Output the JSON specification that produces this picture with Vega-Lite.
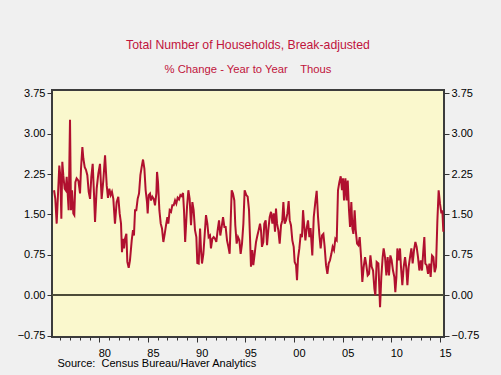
{
"$schema":"https://vega.github.io/schema/vega-lite/v6.json",
"width":392,"height":247,
"autosize":{"type":"none"},
"padding":{"left":52,"top":90,"right":57,"bottom":38},
"background":"#f0f0f0",
"title":{"text":"Total Number of Households, Break-adjusted","subtitle":"% Change - Year to Year\u00a0\u00a0\u00a0\u00a0Thous","color":"#c0143c","subtitleColor":"#c0143c","font":"Liberation Sans","subtitleFont":"Liberation Sans","fontSize":12.25,"subtitleFontSize":11.25,"fontWeight":"normal","anchor":"middle","offset":12,"subtitlePadding":13},
"config":{"view":{"fill":"#faf8cd","stroke":"#3c3c3c","strokeWidth":2}},
"data":{"values":[
{"year":1975.35,"pct":1.95},{"year":1975.48,"pct":1.79},{"year":1975.62,"pct":1.33},{"year":1975.76,"pct":1.89},{"year":1975.89,"pct":2.41},{"year":1976.0,"pct":2.2},{"year":1976.1,"pct":1.42},{"year":1976.2,"pct":2.48},{"year":1976.3,"pct":2.23},{"year":1976.44,"pct":1.98},{"year":1976.55,"pct":1.95},{"year":1976.65,"pct":2.2},{"year":1976.75,"pct":1.89},{"year":1976.85,"pct":1.58},{"year":1976.99,"pct":3.26},{"year":1977.09,"pct":1.58},{"year":1977.2,"pct":1.95},{"year":1977.33,"pct":1.52},{"year":1977.43,"pct":1.49},{"year":1977.54,"pct":2.1},{"year":1977.67,"pct":2.17},{"year":1977.85,"pct":2.13},{"year":1978.02,"pct":1.89},{"year":1978.12,"pct":2.35},{"year":1978.26,"pct":2.75},{"year":1978.36,"pct":2.54},{"year":1978.5,"pct":2.38},{"year":1978.63,"pct":2.33},{"year":1978.77,"pct":2.23},{"year":1978.91,"pct":1.92},{"year":1979.05,"pct":1.79},{"year":1979.18,"pct":2.2},{"year":1979.32,"pct":2.44},{"year":1979.46,"pct":1.86},{"year":1979.56,"pct":1.36},{"year":1979.73,"pct":1.98},{"year":1979.9,"pct":2.26},{"year":1980.07,"pct":2.44},{"year":1980.24,"pct":1.79},{"year":1980.41,"pct":2.13},{"year":1980.59,"pct":2.6},{"year":1980.76,"pct":2.04},{"year":1980.89,"pct":1.81},{"year":1981.03,"pct":1.98},{"year":1981.17,"pct":1.86},{"year":1981.3,"pct":1.92},{"year":1981.44,"pct":1.79},{"year":1981.61,"pct":1.33},{"year":1981.78,"pct":1.73},{"year":1981.95,"pct":1.83},{"year":1982.09,"pct":1.52},{"year":1982.23,"pct":1.33},{"year":1982.33,"pct":0.8},{"year":1982.44,"pct":1.05},{"year":1982.54,"pct":0.87},{"year":1982.64,"pct":1.05},{"year":1982.78,"pct":1.14},{"year":1982.88,"pct":0.62},{"year":1983.02,"pct":0.51},{"year":1983.15,"pct":0.65},{"year":1983.33,"pct":1.02},{"year":1983.46,"pct":1.21},{"year":1983.56,"pct":1.11},{"year":1983.67,"pct":1.58},{"year":1983.8,"pct":1.58},{"year":1983.94,"pct":1.79},{"year":1984.08,"pct":1.89},{"year":1984.22,"pct":2.23},{"year":1984.35,"pct":2.38},{"year":1984.49,"pct":2.52},{"year":1984.63,"pct":2.35},{"year":1984.76,"pct":1.95},{"year":1984.9,"pct":1.73},{"year":1984.97,"pct":1.52},{"year":1985.07,"pct":1.86},{"year":1985.21,"pct":1.89},{"year":1985.31,"pct":1.76},{"year":1985.45,"pct":1.83},{"year":1985.59,"pct":1.79},{"year":1985.72,"pct":1.67},{"year":1985.86,"pct":1.89},{"year":1985.93,"pct":2.29},{"year":1986.03,"pct":2.1},{"year":1986.17,"pct":1.58},{"year":1986.31,"pct":1.33},{"year":1986.44,"pct":1.24},{"year":1986.58,"pct":0.99},{"year":1986.72,"pct":1.14},{"year":1986.85,"pct":1.3},{"year":1986.99,"pct":1.45},{"year":1987.09,"pct":1.33},{"year":1987.23,"pct":1.58},{"year":1987.37,"pct":1.55},{"year":1987.5,"pct":1.67},{"year":1987.64,"pct":1.67},{"year":1987.78,"pct":1.76},{"year":1987.91,"pct":1.7},{"year":1988.05,"pct":1.81},{"year":1988.19,"pct":1.78},{"year":1988.33,"pct":1.86},{"year":1988.46,"pct":1.84},{"year":1988.6,"pct":1.9},{"year":1988.7,"pct":1.58},{"year":1988.82,"pct":0.99},{"year":1989.01,"pct":1.64},{"year":1989.15,"pct":1.95},{"year":1989.28,"pct":1.79},{"year":1989.42,"pct":1.3},{"year":1989.56,"pct":1.73},{"year":1989.69,"pct":1.58},{"year":1989.83,"pct":1.21},{"year":1989.97,"pct":1.08},{"year":1990.07,"pct":0.6},{"year":1990.21,"pct":0.59},{"year":1990.35,"pct":1.24},{"year":1990.45,"pct":0.84},{"year":1990.55,"pct":0.59},{"year":1990.69,"pct":0.77},{"year":1990.82,"pct":1.11},{"year":1990.96,"pct":1.49},{"year":1991.1,"pct":1.33},{"year":1991.23,"pct":1.08},{"year":1991.37,"pct":1.11},{"year":1991.47,"pct":0.87},{"year":1991.61,"pct":1.05},{"year":1991.75,"pct":1.08},{"year":1991.89,"pct":1.05},{"year":1992.02,"pct":0.99},{"year":1992.16,"pct":1.21},{"year":1992.3,"pct":1.39},{"year":1992.43,"pct":1.11},{"year":1992.57,"pct":1.27},{"year":1992.71,"pct":1.45},{"year":1992.85,"pct":1.27},{"year":1992.98,"pct":1.27},{"year":1993.12,"pct":1.02},{"year":1993.26,"pct":0.9},{"year":1993.39,"pct":0.77},{"year":1993.5,"pct":1.39},{"year":1993.6,"pct":1.95},{"year":1993.73,"pct":1.89},{"year":1993.87,"pct":1.76},{"year":1993.97,"pct":1.3},{"year":1994.11,"pct":0.96},{"year":1994.25,"pct":1.08},{"year":1994.39,"pct":1.02},{"year":1994.52,"pct":0.77},{"year":1994.66,"pct":0.96},{"year":1994.8,"pct":1.33},{"year":1994.93,"pct":1.95},{"year":1995.1,"pct":1.86},{"year":1995.24,"pct":1.83},{"year":1995.38,"pct":1.58},{"year":1995.48,"pct":1.08},{"year":1995.58,"pct":0.53},{"year":1995.72,"pct":0.84},{"year":1995.82,"pct":0.56},{"year":1995.96,"pct":0.77},{"year":1996.1,"pct":0.99},{"year":1996.24,"pct":1.11},{"year":1996.37,"pct":1.21},{"year":1996.51,"pct":1.33},{"year":1996.61,"pct":1.21},{"year":1996.71,"pct":0.9},{"year":1996.85,"pct":0.99},{"year":1996.95,"pct":1.33},{"year":1997.09,"pct":1.39},{"year":1997.23,"pct":0.93},{"year":1997.36,"pct":1.21},{"year":1997.5,"pct":1.45},{"year":1997.64,"pct":1.55},{"year":1997.78,"pct":1.33},{"year":1997.91,"pct":1.52},{"year":1998.05,"pct":1.18},{"year":1998.15,"pct":1.61},{"year":1998.26,"pct":1.33},{"year":1998.39,"pct":1.21},{"year":1998.53,"pct":0.96},{"year":1998.67,"pct":1.3},{"year":1998.8,"pct":1.39},{"year":1998.91,"pct":1.73},{"year":1999.04,"pct":1.33},{"year":1999.18,"pct":1.39},{"year":1999.32,"pct":1.52},{"year":1999.45,"pct":1.75},{"year":1999.56,"pct":1.39},{"year":1999.69,"pct":1.3},{"year":1999.83,"pct":1.02},{"year":1999.97,"pct":0.9},{"year":2000.07,"pct":0.62},{"year":2000.21,"pct":0.56},{"year":2000.31,"pct":0.28},{"year":2000.41,"pct":0.68},{"year":2000.55,"pct":0.87},{"year":2000.69,"pct":1.14},{"year":2000.82,"pct":1.08},{"year":2000.93,"pct":1.58},{"year":2001.03,"pct":1.33},{"year":2001.17,"pct":1.02},{"year":2001.3,"pct":1.24},{"year":2001.44,"pct":1.39},{"year":2001.58,"pct":1.08},{"year":2001.7,"pct":1.25},{"year":2001.88,"pct":0.74},{"year":2002.03,"pct":1.45},{"year":2002.19,"pct":1.73},{"year":2002.33,"pct":1.94},{"year":2002.47,"pct":1.45},{"year":2002.6,"pct":1.14},{"year":2002.74,"pct":0.87},{"year":2002.88,"pct":1.11},{"year":2003.02,"pct":1.14},{"year":2003.15,"pct":0.9},{"year":2003.29,"pct":0.56},{"year":2003.43,"pct":0.4},{"year":2003.56,"pct":0.59},{"year":2003.7,"pct":0.65},{"year":2003.84,"pct":0.77},{"year":2003.97,"pct":0.9},{"year":2004.11,"pct":0.84},{"year":2004.25,"pct":1.05},{"year":2004.39,"pct":1.02},{"year":2004.52,"pct":1.95},{"year":2004.66,"pct":2.1},{"year":2004.8,"pct":2.21},{"year":2004.93,"pct":1.95},{"year":2005.04,"pct":2.17},{"year":2005.14,"pct":1.76},{"year":2005.28,"pct":2.17},{"year":2005.41,"pct":1.76},{"year":2005.52,"pct":2.13},{"year":2005.65,"pct":1.58},{"year":2005.76,"pct":1.27},{"year":2005.89,"pct":1.73},{"year":2006.0,"pct":1.24},{"year":2006.1,"pct":1.14},{"year":2006.23,"pct":1.58},{"year":2006.34,"pct":1.21},{"year":2006.48,"pct":0.96},{"year":2006.61,"pct":0.93},{"year":2006.75,"pct":1.08},{"year":2006.89,"pct":0.71},{"year":2007.02,"pct":0.25},{"year":2007.16,"pct":0.53},{"year":2007.3,"pct":0.71},{"year":2007.43,"pct":0.56},{"year":2007.57,"pct":0.37},{"year":2007.71,"pct":0.4},{"year":2007.85,"pct":0.74},{"year":2007.98,"pct":0.53},{"year":2008.12,"pct":0.46},{"year":2008.26,"pct":0.12},{"year":2008.36,"pct":0.0},{"year":2008.49,"pct":0.62},{"year":2008.67,"pct":0.59},{"year":2008.84,"pct":-0.22},{"year":2008.97,"pct":0.34},{"year":2009.11,"pct":0.71},{"year":2009.21,"pct":0.87},{"year":2009.35,"pct":0.71},{"year":2009.49,"pct":0.37},{"year":2009.62,"pct":0.71},{"year":2009.76,"pct":0.37},{"year":2009.9,"pct":0.74},{"year":2010.03,"pct":0.65},{"year":2010.17,"pct":0.46},{"year":2010.31,"pct":0.34},{"year":2010.41,"pct":0.06},{"year":2010.52,"pct":0.34},{"year":2010.62,"pct":0.87},{"year":2010.75,"pct":0.65},{"year":2010.89,"pct":0.87},{"year":2010.99,"pct":0.53},{"year":2011.13,"pct":0.19},{"year":2011.27,"pct":0.53},{"year":2011.41,"pct":0.71},{"year":2011.54,"pct":0.5},{"year":2011.65,"pct":0.19},{"year":2011.78,"pct":0.53},{"year":2011.92,"pct":0.71},{"year":2012.06,"pct":0.87},{"year":2012.19,"pct":0.59},{"year":2012.33,"pct":0.84},{"year":2012.47,"pct":0.99},{"year":2012.6,"pct":0.9},{"year":2012.74,"pct":0.71},{"year":2012.88,"pct":0.46},{"year":2013.02,"pct":0.65},{"year":2013.15,"pct":0.46},{"year":2013.29,"pct":0.84},{"year":2013.39,"pct":1.08},{"year":2013.49,"pct":0.59},{"year":2013.63,"pct":0.56},{"year":2013.77,"pct":0.4},{"year":2013.91,"pct":0.59},{"year":2014.04,"pct":0.34},{"year":2014.18,"pct":0.74},{"year":2014.32,"pct":0.71},{"year":2014.45,"pct":0.43},{"year":2014.59,"pct":0.53},{"year":2014.73,"pct":1.39},{"year":2014.86,"pct":1.95},{"year":2015.0,"pct":1.7},{"year":2015.14,"pct":1.52},{"year":2015.24,"pct":1.58},{"year":2015.34,"pct":1.18}
]},
"resolve":{"axis":{"y":"independent"}},
"layer":[
{"mark":{"type":"rule","color":"#4d4d3a","strokeWidth":1},
 "encoding":{"y":{"datum":0,"type":"quantitative","axis":null}}},
{"mark":{"type":"line","color":"#b0102f","strokeWidth":2},
 "encoding":{
  "x":{"field":"year","type":"quantitative","scale":{"domain":[1975.14,2015.41],"nice":false,"zero":false},
   "axis":{"values":[1976,1977,1978,1979,1980,1981,1982,1983,1984,1985,1986,1987,1988,1989,1990,1991,1992,1993,1994,1995,1996,1997,1998,1999,2000,2001,2002,2003,2004,2005,2006,2007,2008,2009,2010,2011,2012,2013,2014,2015],
    "orient":"bottom","title":"Source:\u00a0 Census Bureau/Haver Analytics","titleAnchor":"start","titleAlign":"left","titleX":5,"titleY":29.5,"titleBaseline":"alphabetic","titleFontSize":11,"titleFontWeight":"normal","titleFont":"Liberation Sans","titleColor":"#000000",
    "domain":false,"grid":false,"tickColor":"#333333",
    "tickSize":{"condition":{"test":"datum.value % 5 === 0","value":5},"value":3},
    "labelExpr":"datum.value % 5 === 0 ? slice(toString(datum.value), 2) : ''",
    "labelOffset":5,"labelPadding":5,"labelFontSize":11,"labelFont":"Liberation Sans","labelColor":"#000000","labelFlush":false,"labelOverlap":false,"labelBound":false}},
  "y":{"field":"pct","type":"quantitative","scale":{"domain":[-0.774,3.811],"nice":false,"zero":false},
   "axis":{"values":[-0.75,0,0.75,1.5,2.25,3,3.75],"format":".2f","orient":"left","title":null,"domain":false,"grid":false,"tickSize":5,"tickColor":"#333333","labelPadding":2,"labelFontSize":11,"labelFont":"Liberation Sans","labelColor":"#000000"}}}},
{"mark":{"type":"line","strokeOpacity":0},
 "encoding":{
  "x":{"field":"year","type":"quantitative",
   "axis":{"values":[1976,1977,1978,1979,1980,1981,1982,1983,1984,1985,1986,1987,1988,1989,1990,1991,1992,1993,1994,1995,1996,1997,1998,1999,2000,2001,2002,2003,2004,2005,2006,2007,2008,2009,2010,2011,2012,2013,2014,2015],
    "orient":"bottom","title":"Source:\u00a0 Census Bureau/Haver Analytics","titleAnchor":"start","titleAlign":"left","titleX":5,"titleY":29.5,"titleBaseline":"alphabetic","titleFontSize":11,"titleFontWeight":"normal","titleFont":"Liberation Sans","titleColor":"#000000",
    "domain":false,"grid":false,"tickColor":"#333333",
    "tickSize":{"condition":{"test":"datum.value % 5 === 0","value":5},"value":3},
    "labelExpr":"datum.value % 5 === 0 ? slice(toString(datum.value), 2) : ''",
    "labelOffset":5,"labelPadding":5,"labelFontSize":11,"labelFont":"Liberation Sans","labelColor":"#000000","labelFlush":false,"labelOverlap":false,"labelBound":false}},
  "y":{"field":"pct","type":"quantitative",
   "axis":{"values":[-0.75,0,0.75,1.5,2.25,3,3.75],"format":".2f","orient":"right","title":null,"domain":false,"grid":false,"tickSize":5,"tickColor":"#333333","labelPadding":2,"labelFontSize":11,"labelFont":"Liberation Sans","labelColor":"#000000"}}}}
]
}
